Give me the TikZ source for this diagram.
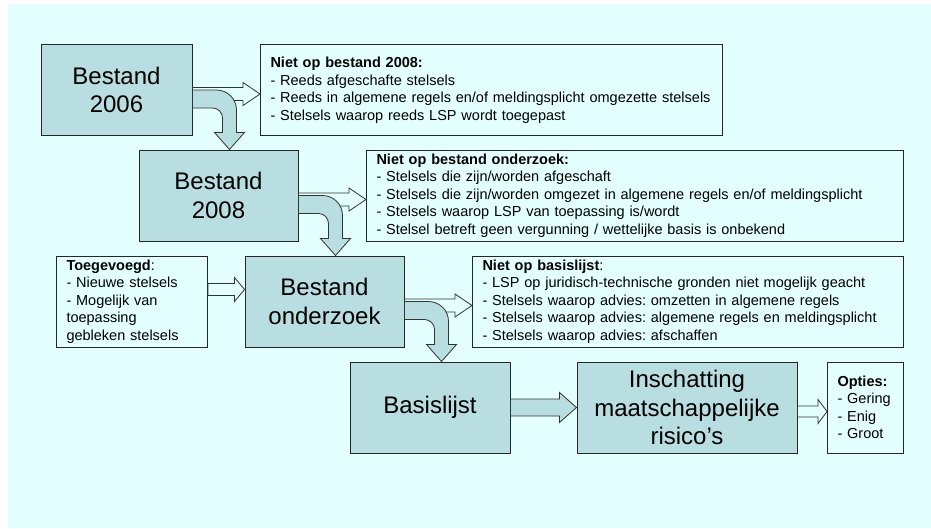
\documentclass[tikz,border=0pt]{standalone}
\usepackage{fontspec}
\setmainfont{Liberation Sans}
\usepackage{tikz}
\usetikzlibrary{calc, positioning}
\frenchspacing

\definecolor{sheet}{RGB}{227,255,255}
\definecolor{stagefill}{RGB}{185,222,226}

\newcommand{\flatarrow}[7]{%
  \draw[block, fill=#7] let \p1 = (#1.east), \p2 = (#2.west) in
    (\x1, {\y1+#3+#4}) -- ({\x2-#6}, {\y1+#3+#4}) -- ({\x2-#6}, {\y1+#3+#5})
    -- (\x2, {\y1+#3}) -- ({\x2-#6}, {\y1+#3-#5}) -- ({\x2-#6}, {\y1+#3-#4})
    -- (\x1, {\y1+#3-#4}) -- cycle;}
\newcommand{\bentarrow}[2]{%
  \draw[block, fill=stagefill] let \p1 = (#1.east), \p2 = (#2.north) in
    (\x1, \y1) -- ({\x1+24pt}, \y1) arc[start angle=90, end angle=0, radius=20pt]
    -- ({\x1+44pt}, {\y2+17pt}) -- ({\x1+52pt}, {\y2+17pt}) -- ({\x1+37pt}, \y2)
    -- ({\x1+22pt}, {\y2+17pt}) -- ({\x1+30pt}, {\y2+17pt}) -- ({\x1+30pt}, {\y1-28pt})
    arc[start angle=0, end angle=90, radius=10pt] -- (\x1, {\y1-18pt}) -- cycle;}

\begin{document}
\begin{tikzpicture}[x=1pt, y=1pt,
    stage/.style={draw=black!85, line width=1pt, fill=stagefill, minimum height=91pt,
      align=center, inner sep=0pt, font=\fontsize{24}{28.5}\selectfont},
    note/.style={draw=black!85, line width=1pt, minimum height=91pt, text width=#1,
      inner xsep=10pt, inner ysep=0pt, align=left, anchor=west,
      font=\fontsize{14.5}{17.5}\selectfont},
    block/.style={draw=black!80, line width=0.8pt, line join=miter}]
    \useasboundingbox (0, 0) rectangle (931, -528);
    \fill[white] (0, 0) rectangle (931, -528);
    \fill[sheet] (8, -4) rectangle (931, -528);

    \node[stage, minimum width=151pt] (b2006) at (116.5, -90) {Bestand\\2006};
    \node[stage, minimum width=159pt] (b2008) at (218.5, -195.5) {Bestand\\2008};
    \node[stage, minimum width=159pt] (onderzoek) at (324.5, -301.5) {Bestand\\onderzoek};
    \node[stage, minimum width=160pt] (basislijst) at (430, -407.5) {Basislijst};
    \node[stage, minimum width=220pt] (inschatting) at (687, -407.5) {Inschatting\\maatschappelijke\\risico’s};

    \node[note=442pt] (n2008) at (260, -90) {\textbf{Niet op bestand 2008:}\\
      - Reeds afgeschafte stelsels\\
      - Reeds in algemene regels en/of meldingsplicht omgezette stelsels\\
      - Stelsels waarop reeds LSP wordt toegepast};
    \node[note=517pt] (nonderzoek) at (366, -195.5) {\textbf{Niet op bestand onderzoek:}\\
      - Stelsels die zijn/worden afgeschaft\\
      - Stelsels die zijn/worden omgezet in algemene regels en/of meldingsplicht\\
      - Stelsels waarop LSP van toepassing is/wordt\\
      - Stelsel betreft geen vergunning / wettelijke basis is onbekend};
    \node[note=131pt] (toegevoegd) at (56, -301.5) {\textbf{Toegevoegd}:\\
      - Nieuwe stelsels\\
      - Mogelijk van\\
      toepassing\\
      gebleken stelsels};
    \node[note=411pt] (nbasis) at (472, -301.5) {\textbf{Niet op basislijst}:\\
      - LSP op juridisch-technische gronden niet mogelijk geacht\\
      - Stelsels waarop advies: omzetten in algemene regels\\
      - Stelsels waarop advies: algemene regels en meldingsplicht\\
      - Stelsels waarop advies: afschaffen};
    \node[note=56pt] (opties) at (827, -407.5) {\textbf{Opties:}\\
      - Gering\\
      - Enig\\
      - Groot};

    \flatarrow{b2006}{n2008}{-4pt}{6.5pt}{11.5pt}{17pt}{sheet}
    \flatarrow{b2008}{nonderzoek}{-4pt}{6.5pt}{11.5pt}{17pt}{sheet}
    \flatarrow{onderzoek}{nbasis}{-4pt}{6.5pt}{11.5pt}{17pt}{sheet}
    \flatarrow{toegevoegd}{onderzoek}{12pt}{6pt}{12pt}{10pt}{sheet}
    \flatarrow{basislijst}{inschatting}{0pt}{8.5pt}{15pt}{17pt}{stagefill}
    \flatarrow{inschatting}{opties}{-4pt}{5.5pt}{12pt}{9pt}{sheet}

    \bentarrow{b2006}{b2008}
    \bentarrow{b2008}{onderzoek}
    \bentarrow{onderzoek}{basislijst}
\end{tikzpicture}
\end{document}
